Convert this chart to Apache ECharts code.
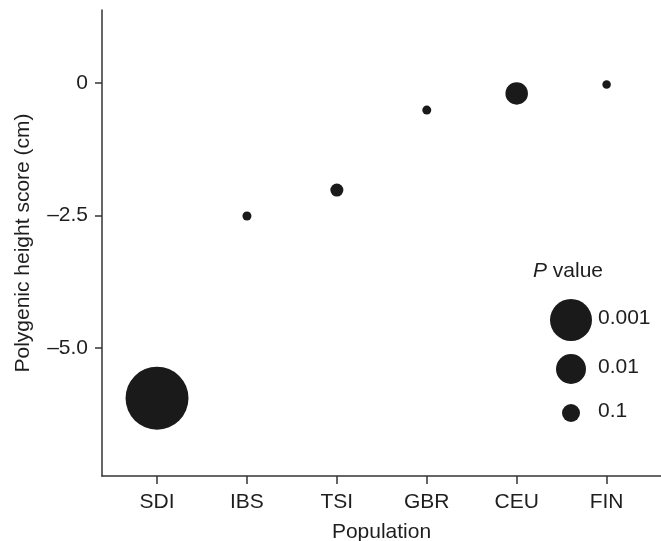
<!DOCTYPE html>
<html><head><meta charset="utf-8">
<script src="https://cdn.jsdelivr.net/npm/echarts@6/dist/echarts.min.js"></script>
<style>html,body{margin:0;padding:0;background:#fff}#c{width:661px;height:541px}</style>
</head><body><div id="c"></div>
<script>
var populations = ['SDI','IBS','TSI','GBR','CEU','FIN'];
var heightScores = [-5.95, -2.51, -2.02, -0.51, -0.195, -0.025];
var pValues = [0.000018, 0.56, 0.26, 0.56, 0.042, 0.62];
var yTickValues = [0, -2.5, -5.0];
var legendPValues = [0.001, 0.01, 0.1];
var legendLabels = ['0.001','0.01','0.1'];

function sizeOf(p){ return 18 + 12*Math.log10(0.1/p); }

var FONT = 'Liberation Sans, Arial, sans-serif';
var FS = 21;
var TXT = '#1e1e1e';
var chart = echarts.init(document.getElementById('c'));

var graphics = [{
  type:'text', left: 533, top: 261,
  style:{ text:'{i|P} value', font:FS+'px '+FONT, fill:TXT,
    rich:{ i:{ fontStyle:'italic', fontSize:FS, fontFamily:FONT, fill:TXT } } }
}];
var legendY = [320, 369, 413];
legendPValues.forEach(function(p,i){
  graphics.push({ type:'circle', shape:{ cx:571, cy:legendY[i], r:sizeOf(p)/2 }, style:{ fill:'#1a1a1a' } });
  graphics.push({ type:'text', left:598, top:legendY[i]-12, style:{ text:legendLabels[i], font:FS+'px '+FONT, fill:TXT } });
});

chart.setOption({
  animation:false,
  backgroundColor:'#fff',
  grid:{ left:102, right:0, top:10, bottom:65, containLabel:false, outerBoundsMode:'none' },
  xAxis:{
    type:'value', min:0.388, max:6.605,
    name:'Population', nameLocation:'middle', nameGap:46,
    nameTextStyle:{ fontFamily:FONT, fontSize:FS, color:TXT },
    axisLine:{ onZero:false, lineStyle:{ color:'#333', width:1.5 } },
    axisTick:{ customValues:[1,2,3,4,5,6], length:8, lineStyle:{ color:'#333', width:1.5 } },
    axisLabel:{ customValues:[1,2,3,4,5,6], margin:16, fontFamily:FONT, fontSize:FS, color:TXT,
      formatter:function(v){ return populations[Math.round(v)-1] || ''; } },
    splitLine:{ show:false }
  },
  yAxis:{
    type:'value', min:-7.42, max:1.38,
    name:'Polygenic height score (cm)', nameLocation:'middle', nameGap:68,
    nameTextStyle:{ fontFamily:FONT, fontSize:FS, color:TXT },
    axisLine:{ onZero:false, lineStyle:{ color:'#333', width:1.5 } },
    axisTick:{ customValues:yTickValues, length:7, lineStyle:{ color:'#333', width:1.5 } },
    axisLabel:{ customValues:yTickValues, margin:14, fontFamily:FONT, fontSize:FS, color:TXT,
      formatter:function(v){ if (Math.abs(v)<1e-9) return '0'; return '\u2013' + Math.abs(v).toFixed(1); } },
    splitLine:{ show:false }
  },
  series:[{
    type:'scatter',
    data: populations.map(function(n,i){ return [i+1, heightScores[i], pValues[i]]; }),
    symbol:'circle',
    symbolSize:function(d){ return sizeOf(d[2]); },
    itemStyle:{ color:'#1a1a1a', opacity:1 }
  }],
  graphic: graphics
});
</script></body></html>
